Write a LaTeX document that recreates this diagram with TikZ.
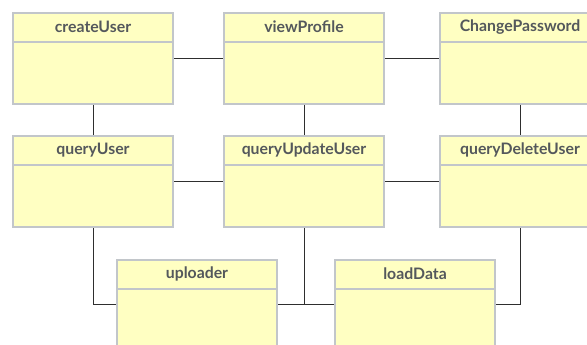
\documentclass[tikz,border=0pt]{standalone}
\usepackage{fontspec}
\setmainfont{Lato}
\definecolor{boxfill}{HTML}{FFFFC2}
\definecolor{boxedge}{HTML}{C2C6CA}
\definecolor{titlegray}{HTML}{54585C}
\definecolor{wire}{HTML}{2E2E2E}
\tikzset{
  classbody/.style={draw=boxedge, fill=boxfill, line width=2pt, rectangle,
    anchor=north west, minimum width=160pt, inner sep=0pt},
  divider/.style={draw=boxedge, line width=2pt},
  classtitle/.style={text=titlegray, font=\bfseries\fontsize{15.8}{18}\selectfont, inner sep=0pt},
  link/.style={draw=wire, line width=1pt}
}
% class box: name, x, y, height, title
\newcommand{\classbox}[5]{%
  \node[classbody, minimum height=#4pt] (#1) at (#2,#3) {};
  \draw[divider] ([yshift=-30pt]#1.north west) -- ([yshift=-30pt]#1.north east);
  \node[classtitle] (#1-title) at ([yshift=-15pt]#1.north) {#5};
}
\begin{document}
\begin{tikzpicture}[x=1pt, y=-1pt]
  \useasboundingbox (0,0) rectangle (587,345);
  \clip (0,0) rectangle (587,345);
  % top row
  \classbox{createUser}{12}{12}{91}{createUser}
  \classbox{viewProfile}{223}{12}{91}{viewProfile}
  \classbox{changePassword}{439}{12}{91}{ChangePassword}
  % middle row
  \classbox{queryUser}{12}{135}{91}{queryUser}
  \classbox{queryUpdateUser}{223}{135}{91}{queryUpdateUser}
  \classbox{queryDeleteUser}{439}{135}{91}{queryDeleteUser}
  % bottom row
  \classbox{uploader}{116}{259}{88}{uploader}
  \classbox{loadData}{334}{259}{88}{loadData}
  % links
  \draw[link] (createUser.east) -- (viewProfile.west);
  \draw[link] (viewProfile.east) -- (changePassword.west);
  \draw[link] (queryUser.east) -- (queryUpdateUser.west);
  \draw[link] (queryUpdateUser.east) -- (queryDeleteUser.west);
  \draw[link] (createUser.south) -- (queryUser.north);
  \draw[link] (viewProfile.south) -- (queryUpdateUser.north);
  \draw[link] (changePassword.south) -- (queryDeleteUser.north);
  \draw[link] (queryUser.south) |- (uploader.west);
  \draw[link] (uploader.east) -- (loadData.west);
  \draw[link] (queryUpdateUser.south) -- (queryUpdateUser.south |- uploader.east);
  \draw[link] (loadData.east) -| (queryDeleteUser.south);
\end{tikzpicture}
\end{document}
